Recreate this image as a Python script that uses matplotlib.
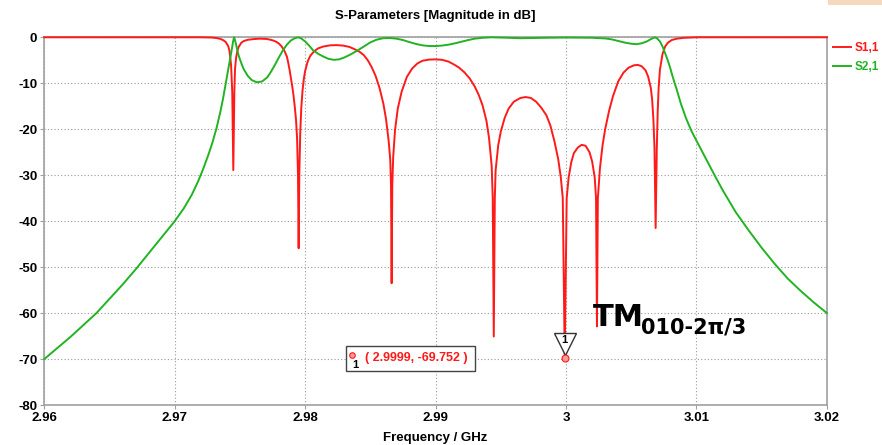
import numpy as np
import matplotlib
matplotlib.use("Agg")
import matplotlib.pyplot as plt
from matplotlib.patches import Rectangle

# ======================
# Data
# ======================
s11_freq = [2.9600, 2.9720, 2.9728, 2.9732, 2.9735, 2.9737, 2.9739, 2.9741, 2.9742,
            2.97432, 2.97441, 2.97449, 2.97457, 2.97462, 2.9747, 2.9748, 2.9749, 2.9751,
            2.9753, 2.9756, 2.9760, 2.9765, 2.9770, 2.9773, 2.9776, 2.9778, 2.9780,
            2.9782, 2.9784, 2.9786, 2.9787, 2.9788, 2.9789, 2.9790, 2.9791, 2.9792,
            2.9793, 2.97938, 2.97945, 2.9795, 2.97955, 2.97962, 2.9797, 2.9798, 2.9799,
            2.9800, 2.9802, 2.9804, 2.9807, 2.9810, 2.9814, 2.9819, 2.9824, 2.9829,
            2.9834, 2.9838, 2.9842, 2.9845, 2.9848, 2.9851, 2.9854, 2.9857, 2.9860,
            2.9862, 2.9864, 2.98652, 2.98658, 2.98663, 2.98668, 2.98675, 2.98689, 2.9871,
            2.9874, 2.9878, 2.9882, 2.9886, 2.9890, 2.9895, 2.9900, 2.9905, 2.9910,
            2.9914, 2.9918, 2.9922, 2.9926, 2.9930, 2.9933, 2.9936, 2.9939, 2.9941,
            2.9943, 2.99438, 2.99446, 2.99454, 2.9946, 2.9948, 2.9950, 2.9953, 2.9956,
            2.9960, 2.9965, 2.9969, 2.9973, 2.9977, 2.9981, 2.9985, 2.9988, 2.9991,
            2.9994, 2.9996, 2.99975, 2.9999, 3.00005, 3.0002, 3.0004, 3.0006, 3.0009,
            3.0012, 3.0015, 3.0018, 3.0020, 3.0022, 3.0023, 3.00237, 3.00244, 3.0026,
            3.0028, 3.0030, 3.0033, 3.0036, 3.0040, 3.0044, 3.0048, 3.0052, 3.0055,
            3.0058, 3.0061, 3.0063, 3.0065, 3.0066, 3.0067, 3.00678, 3.00687, 3.00696,
            3.00703, 3.0071, 3.0072, 3.0074, 3.0076, 3.0078, 3.0081, 3.0085, 3.0090,
            3.0095, 3.0100, 3.0200]
s11_db = [0.0, 0.0, -0.05, -0.15, -0.35, -0.6, -1.0, -1.9, -3.0,
          -6.0, -12.0, -28.9, -12.0, -7.0, -4.5, -3.0, -2.1, -1.2,
          -0.8, -0.55, -0.4, -0.3, -0.35, -0.5, -0.75, -1.0, -1.4,
          -2.0, -2.9, -4.2, -5.5, -7.0, -8.7, -10.5, -12.5, -15.0,
          -18.0, -22.0, -30.0, -45.9, -30.0, -21.0, -15.5, -11.5, -9.0,
          -7.3, -5.2, -4.0, -3.0, -2.4, -2.0, -1.75, -1.7, -1.8,
          -2.1, -2.6, -3.2, -3.9, -5.0, -6.5, -8.4, -11.0, -14.5,
          -17.8, -22.5, -26.5, -32.0, -53.5, -32.0, -26.0, -20.2, -15.5,
          -11.8, -8.6, -6.8, -5.7, -5.1, -4.85, -4.8, -4.9, -5.3,
          -5.9, -6.6, -7.6, -8.9, -10.7, -12.5, -14.8, -18.2, -22.0,
          -28.0, -35.0, -65.1, -35.0, -29.0, -23.5, -20.5, -17.5, -15.5,
          -14.0, -13.2, -13.0, -13.2, -14.0, -15.3, -17.0, -19.2, -22.5,
          -26.5, -30.5, -35.0, -69.752, -35.0, -30.5, -27.2, -25.2, -24.0,
          -23.4, -23.6, -25.0, -27.0, -30.5, -35.0, -62.9, -35.0, -28.5,
          -23.5, -20.0, -16.0, -12.8, -9.6, -7.7, -6.6, -6.1, -6.0,
          -6.3, -7.2, -8.6, -11.0, -13.5, -18.0, -24.0, -41.5, -24.0,
          -16.0, -11.0, -7.0, -3.6, -2.0, -1.2, -0.6, -0.3, -0.12,
          -0.05, 0.0, 0.0]

s21_freq = [2.9600, 2.9610, 2.9620, 2.9630, 2.9640, 2.9650, 2.9660, 2.9670, 2.9680,
            2.9690, 2.9700, 2.9707, 2.9713, 2.9718, 2.9722, 2.9726, 2.9729, 2.9732,
            2.9735, 2.9737, 2.9739, 2.9741, 2.9743, 2.9744, 2.97448, 2.97455, 2.97462,
            2.9747, 2.9748, 2.9749, 2.9751, 2.9753, 2.9756, 2.9759, 2.9763, 2.9767,
            2.9771, 2.9774, 2.9777, 2.9780, 2.9783, 2.9786, 2.9789, 2.9792, 2.97947,
            2.9797, 2.9800, 2.9803, 2.9806, 2.9810, 2.9814, 2.9818, 2.9822, 2.9826,
            2.9830, 2.9835, 2.9840, 2.9845, 2.9850, 2.9855, 2.9860, 2.9865, 2.9870,
            2.9875, 2.9880, 2.9885, 2.9890, 2.9895, 2.9900, 2.9905, 2.9910, 2.9915,
            2.9920, 2.9925, 2.9930, 2.9936, 2.9943, 2.9955, 2.9965, 2.9975, 2.9985,
            3.0000, 3.0020, 3.0030, 3.0035, 3.0040, 3.0045, 3.0050, 3.0054, 3.0058,
            3.0062, 3.0065, 3.00682, 3.0070, 3.0072, 3.0074, 3.0076, 3.0078, 3.0080,
            3.0082, 3.0085, 3.0088, 3.0092, 3.0096, 3.0100, 3.0105, 3.0110, 3.0115,
            3.0120, 3.0130, 3.0140, 3.0150, 3.0160, 3.0170, 3.0180, 3.0190, 3.0200]
s21_db = [-70.0, -67.6, -65.2, -62.6, -60.0, -56.9, -53.8, -50.5, -47.0,
          -43.5, -40.0, -37.2, -34.3, -31.3, -28.5, -25.4, -22.8, -19.8,
          -16.2, -13.4, -10.2, -7.0, -3.8, -2.2, -0.8, 0.0, -0.6,
          -1.5, -2.8, -4.0, -5.6, -7.0, -8.4, -9.3, -9.8, -9.6,
          -8.7, -7.4, -5.9, -4.3, -2.8, -1.6, -0.7, -0.2, 0.0,
          -0.25, -0.9, -1.8, -2.8, -3.6, -4.2, -4.7, -4.9, -4.8,
          -4.4, -3.7, -2.9, -2.0, -1.1, -0.5, -0.2, -0.15, -0.3,
          -0.6, -1.05, -1.45, -1.75, -1.9, -1.9, -1.8, -1.6, -1.3,
          -0.95, -0.6, -0.3, -0.1, 0.0, -0.1, -0.2, -0.15, -0.1,
          -0.05, -0.1, -0.25, -0.45, -0.8, -1.15, -1.4, -1.5, -1.3,
          -0.9, -0.4, 0.0, -0.3, -0.9, -2.0, -3.5, -5.0, -6.8,
          -8.8, -11.5, -14.4, -17.6, -20.3, -22.5, -25.2, -27.9, -30.6,
          -33.2, -38.0, -42.0, -45.8, -49.3, -52.5, -55.2, -57.7, -60.0]

marker_f = 2.9999
marker_db = -69.752

x_ticks = [2.96, 2.97, 2.98, 2.99, 3.0, 3.01, 3.02]
x_labels = ["2.96", "2.97", "2.98", "2.99", "3", "3.01", "3.02"]
y_ticks = [0, -10, -20, -30, -40, -50, -60, -70, -80]

# ======================
# Plot
# ======================
plt.rcParams['font.family'] = ['Liberation Sans', 'DejaVu Sans']
plt.rcParams['axes.unicode_minus'] = False
RED = '#ff1a1a'
GREEN = '#22b322'
GRAY = '#a0a0a0'

fig = plt.figure(figsize=(8.82, 4.45), dpi=100)
ax = fig.add_axes([44.3 / 882, 1 - 405 / 445, (826.9 - 44.3) / 882, (405 - 37.3) / 445])

ax.plot(s11_freq, s11_db, color=RED, lw=1.4, label="S1,1", clip_on=False, zorder=3)
ax.plot(s21_freq, s21_db, color=GREEN, lw=1.4, label="S2,1", clip_on=False, zorder=4)

ax.set_xlim(2.96, 3.02)
ax.set_ylim(-80, 0)
ax.set_xticks(x_ticks)
ax.set_xticklabels(x_labels)
ax.set_yticks(y_ticks)
ax.grid(True, linestyle=(0, (1, 2)), color='#9a9a9a', lw=0.8)
for s in ax.spines.values():
    s.set_color(GRAY)
    s.set_linewidth(1.2)
ax.tick_params(axis='both', length=3, color=GRAY, labelsize=9.5, pad=2)
for lbl in ax.get_xticklabels() + ax.get_yticklabels():
    lbl.set_fontweight('bold')

ax.set_title("S-Parameters [Magnitude in dB]", fontsize=9.5, fontweight='bold', pad=13)
ax.set_xlabel("Frequency / GHz", fontsize=9.5, fontweight='bold', labelpad=6)

leg = ax.legend(loc='upper left', bbox_to_anchor=(1.002, 1.0), frameon=False,
                handlelength=1.5, handletextpad=0.35, labelspacing=0.6,
                prop={'weight': 'bold', 'size': 8.5}, borderaxespad=0)
for txt, ln in zip(leg.get_texts(), leg.get_lines()):
    txt.set_color(ln.get_color())

# marker at the deepest S1,1 notch
ax.plot(marker_f, marker_db, 'o', ms=5, mfc='#ff9a9a', mec=RED, mew=0.8, zorder=6, clip_on=False)
ax.plot(marker_f, marker_db + 3.0, 'v', ms=16, mfc='white', mec='#333333', mew=1.0, zorder=5)
ax.text(marker_f, marker_db + 4.0, "1", ha='center', va='center', fontsize=8,
        fontweight='bold', color='black', zorder=7)

# marker label box
ax.add_patch(Rectangle((2.98313, -72.5), 0.00989, 5.25, fc='white', ec='#444444',
                       lw=1.0, zorder=6))
ax.plot(2.98359, -69.1, 'o', ms=4, mfc='#ff9a9a', mec=RED, mew=0.8, zorder=7)
ax.text(2.98382, -71.3, "1", ha='center', va='center', fontsize=8, fontweight='bold',
        color='black', zorder=7)
ax.text(2.98458, -69.7, f"( {marker_f:.4f}, {marker_db:.3f} )", ha='left', va='center',
        fontsize=9, fontweight='bold', color=RED, zorder=7)

# mode annotation
ax.text(3.00205, -62.9, "TM", ha='left', va='baseline', fontsize=22, fontweight='bold',
        family='DejaVu Sans', color='black', zorder=7)
ax.text(3.00575, -64.5, "010-2\u03c0/3", ha='left', va='baseline', fontsize=15,
        fontweight='bold', family='DejaVu Sans', color='black', zorder=7)

# little decoration at the top right corner
fig.patches.append(Rectangle((828 / 882, 1 - 5 / 445), 54 / 882, 5 / 445,
                             transform=fig.transFigure, fc='#f6d9bd', ec='none'))

fig.savefig("out.png", dpi=100)
